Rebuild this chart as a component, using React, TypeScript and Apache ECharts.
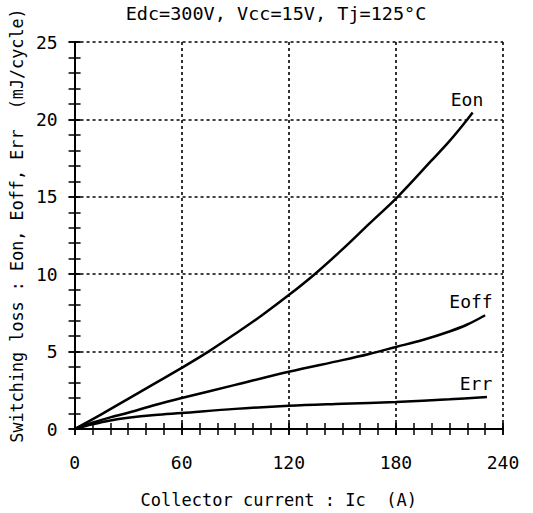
import React, { useEffect, useRef } from "react";
import * as echarts from "echarts";

const xTicks = [0, 60, 120, 180, 240];
const yTicks = [0, 5, 10, 15, 20, 25];

const eonI = [0, 15, 30, 45, 60, 75, 90, 105, 120, 135, 150, 165, 181, 200, 210, 219, 223];
const eonE = [0, 0.95, 1.95, 2.95, 3.95, 5.0, 6.15, 7.35, 8.65, 10.05, 11.6, 13.25, 15.0, 17.35, 18.6, 19.85, 20.45];

const eoffI = [0, 10, 20, 30, 45, 60, 90, 120, 150, 165, 180, 195, 210, 220, 230];
const eoffE = [0, 0.4, 0.75, 1.05, 1.55, 2.0, 2.85, 3.7, 4.45, 4.85, 5.3, 5.75, 6.3, 6.75, 7.35];

const errI = [0, 10, 20, 30, 45, 60, 90, 120, 150, 180, 210, 231];
const errE = [0, 0.3, 0.55, 0.72, 0.9, 1.03, 1.3, 1.5, 1.63, 1.75, 1.92, 2.07];

const seriesNames = ["Eon", "Eoff", "Err"];
const titleText = "Edc=300V, Vcc=15V, Tj=125°C";
const xName = "Collector current : Ic  (A)";
const yName = "Switching loss : Eon, Eoff, Err  (mJ/cycle)";

const FONT = "'DejaVu Sans Mono', 'Liberation Mono', monospace";

export default function App() {
  const ref = useRef<HTMLDivElement>(null);
  useEffect(() => {
    if (!ref.current) return;
    const chart = echarts.init(ref.current, undefined, { renderer: "svg" });
    const pairs = (xs: number[], ys: number[]) => xs.map((x, i) => [x, ys[i]]);
    const lineBlack = { color: "#000", width: 2 };
    const tickStyle = { show: true, inside: true, length: 6, lineStyle: { color: "#000", width: 1.5 } };
    const dotted = { show: true, lineStyle: { color: "#000", width: 1.6, type: [3, 3] } };
    const xMin = xTicks[0];
    const xMax = xTicks[xTicks.length - 1];
    const yMin = yTicks[0];
    const yMax = yTicks[yTicks.length - 1];

    const xAx = (position: string, interval: number, extra: any) => ({
      type: "value",
      position,
      min: xMin,
      max: xMax,
      interval,
      axisLine: { show: true, lineStyle: lineBlack },
      axisTick: tickStyle,
      splitLine: { show: false },
      axisLabel: { show: false },
      ...extra,
    });
    const yAx = (position: string, interval: number, extra: any) => ({
      type: "value",
      position,
      min: yMin,
      max: yMax,
      interval,
      axisLine: { show: true, lineStyle: lineBlack },
      axisTick: tickStyle,
      splitLine: { show: false },
      axisLabel: { show: false },
      ...extra,
    });

    const lineSeries = (name: string, data: number[][]) => ({
      name,
      type: "line",
      data,
      smooth: 0.35,
      showSymbol: false,
      symbol: "none",
      lineStyle: { color: "#000", width: 2.5 },
      xAxisIndex: 0,
      yAxisIndex: 0,
    });

    chart.setOption({
      animation: false,
      backgroundColor: "#fff",
      title: {
        text: titleText,
        left: 276,
        textAlign: "center",
        top: 4,
        padding: 0,
        textStyle: { fontFamily: FONT, fontSize: 18.5, fontWeight: "normal", color: "#000" },
      },
      grid: { left: 72, right: 30, top: 42, bottom: 84 },
      xAxis: [
        xAx("bottom", 60, {
          splitLine: dotted,
          axisLabel: { show: true, margin: 24, color: "#000", fontFamily: FONT, fontSize: 18 },
          name: xName,
          nameLocation: "middle",
          nameGap: 62,
          nameTextStyle: { fontFamily: FONT, fontSize: 17, color: "#000", padding: [0, 20, 0, 0] },
        }),
        xAx("top", 60, {}),
        xAx("bottom", 10, {}),
        xAx("top", 10, {}),
      ],
      yAxis: [
        yAx("left", 5, {
          splitLine: dotted,
          axisLabel: { show: true, margin: 17, color: "#000", fontFamily: FONT, fontSize: 18, padding: [6, 0, 0, 0] },
          name: yName,
          nameLocation: "middle",
          nameRotate: 90,
          nameGap: 42,
          nameTextStyle: { fontFamily: FONT, fontSize: 16.8, color: "#000", padding: [0, 0, 0, 20] },
        }),
        yAx("right", 5, {}),
        yAx("left", 1, {}),
        yAx("right", 1, {}),
      ],
      series: [
        lineSeries(seriesNames[0], pairs(eonI, eonE)),
        lineSeries(seriesNames[1], pairs(eoffI, eoffE)),
        lineSeries(seriesNames[2], pairs(errI, errE)),
      ],
      graphic: [
        { type: "text", x: 467, y: 99, style: { text: seriesNames[0], align: "center", verticalAlign: "middle", font: `18px ${FONT}`, fill: "#000" } },
        { type: "text", x: 471, y: 301, style: { text: seriesNames[1], align: "center", verticalAlign: "middle", font: `18px ${FONT}`, fill: "#000" } },
        { type: "text", x: 476, y: 383, style: { text: seriesNames[2], align: "center", verticalAlign: "middle", font: `18px ${FONT}`, fill: "#000" } },
      ],
    });
    return () => chart.dispose();
  }, []);
  return <div ref={ref} style={{ position: "fixed", left: 0, top: 0, width: 533, height: 513 }} />;
}
